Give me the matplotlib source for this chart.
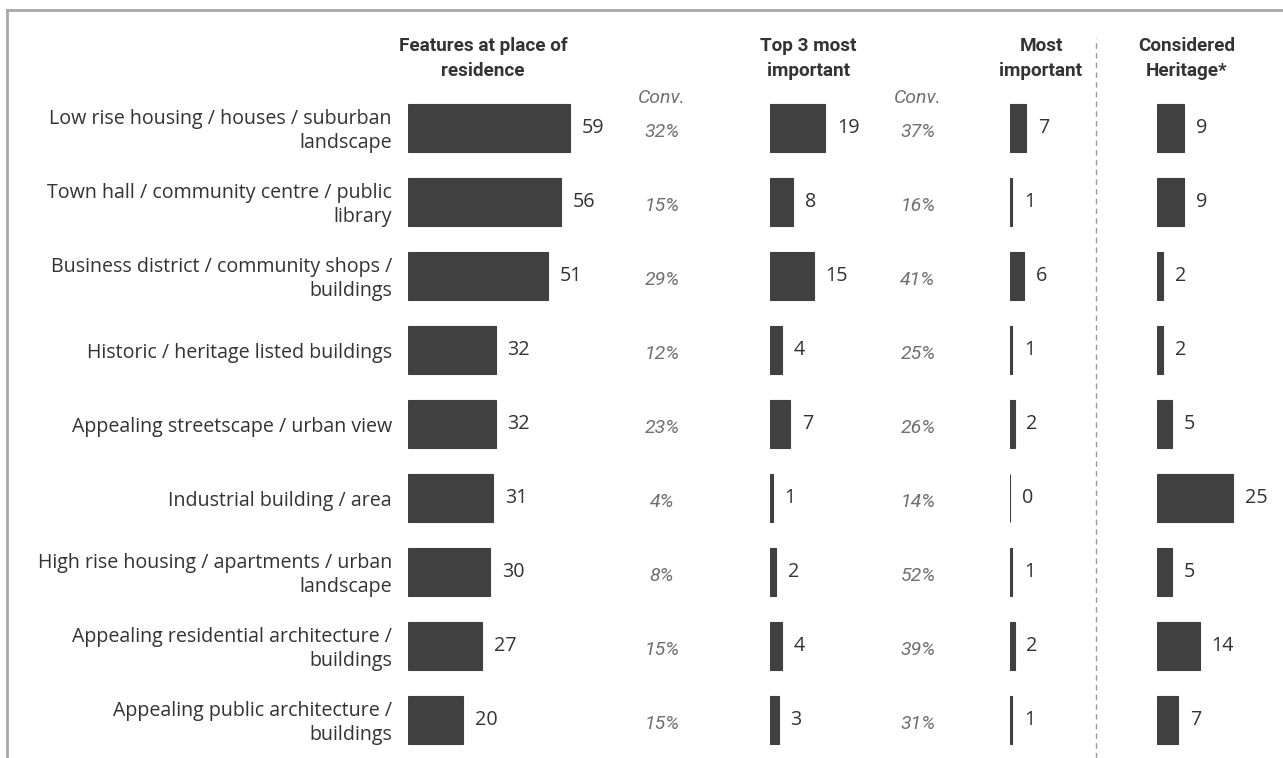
import matplotlib
matplotlib.use("Agg")
import matplotlib.pyplot as plt
from matplotlib.lines import Line2D
from matplotlib.transforms import blended_transform_factory

plt.rcParams["font.family"] = ["Roboto", "DejaVu Sans"]

# ---- data ----
features = [
    "Low rise housing / houses / suburban\nlandscape",
    "Town hall / community centre / public\nlibrary",
    "Business district / community shops /\nbuildings",
    "Historic / heritage listed buildings",
    "Appealing streetscape / urban view",
    "Industrial building / area",
    "High rise housing / apartments / urban\nlandscape",
    "Appealing residential architecture /\nbuildings",
    "Appealing public architecture /\nbuildings",
]
at_residence = [59, 56, 51, 32, 32, 31, 30, 27, 20]
conv_top3 = ["32%", "15%", "29%", "12%", "23%", "4%", "8%", "15%", "15%"]
top3 = [19, 8, 15, 4, 7, 1, 2, 4, 3]
conv_most = ["37%", "16%", "41%", "25%", "26%", "14%", "52%", "39%", "31%"]
most_important = [7, 1, 6, 1, 2, 0, 1, 2, 1]
heritage = [9, 9, 2, 2, 5, 25, 5, 14, 7]

headers = ["Features at place of\nresidence", "Top 3 most\nimportant",
           "Most\nimportant", "Considered\nHeritage*"]

# ---- style ----
BAR = "#404040"
TXT = "#333333"
GREY = "#707070"
BODY = ["Open Sans", "DejaVu Sans"]

W, H = 1283, 758
fig = plt.figure(figsize=(W / 100, H / 100), dpi=100)
fig.patch.set_facecolor("white")

n = len(features)
row_top, row_step = 128, 74          # centre of first row, row pitch (px)
ax_top = row_top - row_step / 2
ax_h = row_step * n


def panel(left_px, px_per_unit, width_px):
    ax = fig.add_axes([left_px / W, 1 - (ax_top + ax_h) / H,
                       width_px / W, ax_h / H])
    ax.set_xlim(0, width_px / px_per_unit)
    ax.set_ylim(n - 0.5, -0.5)
    ax.axis("off")
    return ax


def draw_bars(ax, values):
    ax.barh(range(n), values, height=0.66, color=BAR, edgecolor=BAR,
            linewidth=0.8)
    for i, v in enumerate(values):
        ax.annotate(str(v), xy=(v, i), xytext=(8.5, 0),
                    textcoords="offset points", va="center", ha="left",
                    fontsize=14.2, color=TXT, family=BODY)


ax1 = panel(408, 2.74, 230)
draw_bars(ax1, at_residence)
ax2 = panel(770, 2.9, 110)
draw_bars(ax2, top3)
ax3 = panel(1010, 2.3, 70)
draw_bars(ax3, most_important)
ax4 = panel(1157, 3.05, 120)
draw_bars(ax4, heritage)

# category labels, right-aligned left of the first panel
lab_tr = blended_transform_factory(fig.transFigure, ax1.transData)
for i, lab in enumerate(features):
    ax1.text(392 / W, i + 0.04, lab, transform=lab_tr, ha="right",
             va="center", multialignment="right", fontsize=14.1, color=TXT,
             family=BODY, linespacing=1.24, clip_on=False)

# conversion columns
for col_x, vals in ((662, conv_top3), (918, conv_most)):
    for i, v in enumerate(vals):
        ax1.text(col_x / W, i + 0.05, v, transform=lab_tr, ha="center",
                 va="center", fontsize=14, style="italic", color=GREY,
                 clip_on=False)
    fig.text(col_x / W, 1 - 98 / H, "Conv.", ha="center", va="center",
             fontsize=14, style="italic", color=GREY)

# column headers
for hx, htxt in zip((483, 808, 1041, 1187), headers):
    fig.text(hx / W, 1 - 58.5 / H, htxt, ha="center", va="center",
             fontsize=13.6, fontweight="bold", color=TXT, linespacing=1.55)

# dashed separator before the heritage column
fig.add_artist(Line2D([1096 / W, 1096 / W], [0, 1 - 38 / H],
                      transform=fig.transFigure, color="#9a9a9a",
                      linewidth=1, linestyle=(0, (4, 3))))

# frame on the top and left edges
frame = "#a8a8a8"
fig.add_artist(Line2D([7 / W, 1], [1 - 10 / H, 1 - 10 / H],
                      transform=fig.transFigure, color=frame, linewidth=2))
fig.add_artist(Line2D([7 / W, 7 / W], [0, 1 - 10 / H],
                      transform=fig.transFigure, color=frame, linewidth=2))

fig.savefig("out.png", dpi=100, facecolor="white")
